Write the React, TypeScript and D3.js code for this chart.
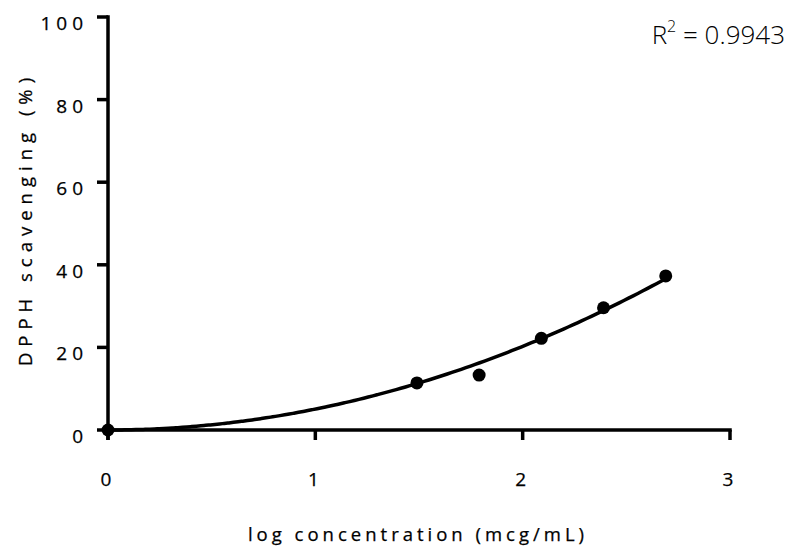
import React from "react";
import * as d3 from "d3";

// Log concentration (mcg/mL) and DPPH scavenging (%)
const logConc: number[] = [0, 1.49, 1.79, 2.09, 2.39, 2.69];
const scavenging: number[] = [0, 11.4, 13.3, 22.2, 29.6, 37.3];

const xTicks: number[] = [0, 1, 2, 3];
const yTicks: number[] = [0, 20, 40, 60, 80, 100];

const rSquaredLabel = "0.9943";

const W = 792;
const H = 552;
const X0 = 108;
const X1 = 730;
const Y0 = 430;
const Y1 = 17;

const labelFont = "'Open Sans', 'DejaVu Sans', sans-serif";

export default function App() {
  const x = d3.scaleLinear().domain([0, 3]).range([X0, X1]);
  const y = d3.scaleLinear().domain([0, 100]).range([Y0, Y1]);

  // Least-squares fit of a quadratic through the origin: y = a·x²
  const sx4 = d3.sum(logConc, (v) => v ** 4);
  const sx2y = d3.sum(logConc, (v, i) => v * v * scavenging[i]);
  const a = sx2y / sx4;
  const xMax = d3.max(logConc) as number;
  const fitPts: [number, number][] = d3
    .range(0, 121)
    .map((i) => (xMax * i) / 120)
    .map((v) => [v, a * v * v]);
  const line = d3
    .line<[number, number]>()
    .x((d) => x(d[0]))
    .y((d) => y(d[1]))
    .curve(d3.curveMonotoneX);

  const sw = 3.5;
  // slight outline so the labels read as a medium weight
  const heavy = { stroke: "#000", strokeWidth: 0.25 };

  return (
    <svg
      width={W}
      height={H}
      style={{ position: "absolute", left: 0, top: 0, background: "#fff" }}
    >
      {/* y axis */}
      <line x1={X0} x2={X0} y1={Y1 - sw / 2} y2={Y0 + 10} stroke="#000" strokeWidth={sw} />
      {yTicks.map((t) => (
        <g key={"y" + t}>
          <line x1={X0 - 11} x2={X0} y1={y(t)} y2={y(t)} stroke="#000" strokeWidth={sw} />
          <text
            x={88}
            y={y(t) + 13}
            textAnchor="end"
            fontFamily={labelFont}
            fontSize={19}
            letterSpacing={5}
            fill="#000"
            {...heavy}
          >
            {t}
          </text>
        </g>
      ))}

      {/* x axis */}
      <line x1={X0} x2={X1 + sw / 2} y1={Y0} y2={Y0} stroke="#000" strokeWidth={sw} />
      {xTicks.map((t) => (
        <g key={"x" + t}>
          <line x1={x(t)} x2={x(t)} y1={Y0} y2={Y0 + 10} stroke="#000" strokeWidth={sw} />
          <text
            x={x(t) - 2}
            y={486}
            textAnchor="middle"
            fontFamily={labelFont}
            fontSize={19}
            fill="#000"
            {...heavy}
          >
            {t}
          </text>
        </g>
      ))}

      {/* fitted curve */}
      <path d={line(fitPts) || ""} fill="none" stroke="#000" strokeWidth={sw} />

      {/* observed points */}
      {logConc.map((v, i) => (
        <circle key={"p" + i} cx={x(v)} cy={y(scavenging[i])} r={6.5} fill="#000" />
      ))}

      {/* axis titles */}
      <text
        transform={`translate(32, 219) rotate(-90)`}
        textAnchor="middle"
        fontFamily={labelFont}
        fontSize={18.5}
        letterSpacing={6}
        fill="#000"
        {...heavy}
      >
        DPPH scavenging (%)
      </text>
      <text
        x={418}
        y={541}
        textAnchor="middle"
        fontFamily={labelFont}
        fontSize={18.5}
        letterSpacing={4}
        fill="#000"
        {...heavy}
      >
        log concentration (mcg/mL)
      </text>

      {/* goodness of fit */}
      <text
        x={785}
        y={44}
        textAnchor="end"
        fontFamily={labelFont}
        fontWeight={300}
        fontSize={26}
        fill="#000"
      >
        R<tspan dy={-12} fontSize={16}>2</tspan>
        <tspan dy={12}> = {rSquaredLabel}</tspan>
      </text>
    </svg>
  );
}
